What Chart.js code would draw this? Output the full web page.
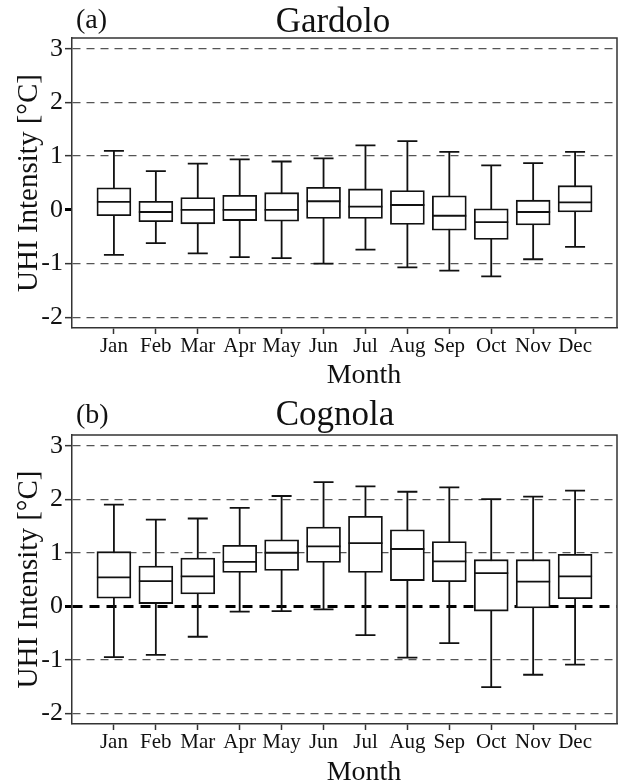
<!DOCTYPE html>
<html>
<head>
<meta charset="utf-8">
<script src="https://cdn.jsdelivr.net/npm/chart.js@4.4.1/dist/chart.umd.min.js"></script>
<style>
  body { margin: 0; background: #fff; }
  canvas { position: absolute; left: 0; }
</style>
</head>
<body>
<canvas id="gardoloChart" width="618" height="396" style="top:0px"></canvas>
<canvas id="cognolaChart" width="618" height="388" style="top:396px"></canvas>
<script>
const months = ['Jan', 'Feb', 'Mar', 'Apr', 'May', 'Jun', 'Jul', 'Aug', 'Sep', 'Oct', 'Nov', 'Dec'];
const yTicks = [-2, -1, 0, 1, 2, 3];

// (a) Gardolo
const gardoloLow = [-0.84, -0.62, -0.81, -0.88, -0.90, -1.00, -0.74, -1.07, -1.13, -1.24, -0.92, -0.69];
const gardoloQ1 = [-0.11, -0.22, -0.26, -0.20, -0.21, -0.16, -0.16, -0.27, -0.38, -0.55, -0.28, -0.04];
const gardoloMedian = [0.15, -0.04, 0.00, 0.00, 0.00, 0.16, 0.06, 0.09, -0.11, -0.23, -0.04, 0.14];
const gardoloQ3 = [0.41, 0.16, 0.23, 0.27, 0.32, 0.42, 0.39, 0.36, 0.26, 0.02, 0.18, 0.45];
const gardoloHigh = [1.10, 0.72, 0.86, 0.94, 0.90, 0.96, 1.20, 1.28, 1.08, 0.83, 0.87, 1.08];

// (b) Cognola
const cognolaLow = [-0.95, -0.91, -0.57, -0.10, -0.09, -0.06, -0.54, -0.96, -0.69, -1.51, -1.28, -1.09];
const cognolaQ1 = [0.15, 0.05, 0.23, 0.63, 0.67, 0.82, 0.63, 0.48, 0.46, -0.09, -0.03, 0.14];
const cognolaMedian = [0.54, 0.47, 0.56, 0.83, 1.00, 1.12, 1.18, 1.07, 0.84, 0.62, 0.46, 0.56];
const cognolaQ3 = [1.02, 0.75, 0.90, 1.14, 1.24, 1.48, 1.68, 1.43, 1.21, 0.87, 0.87, 0.97];
const cognolaHigh = [1.90, 1.62, 1.64, 1.84, 2.06, 2.32, 2.24, 2.14, 2.22, 2.00, 2.05, 2.16];

const SERIF = '"Liberation Serif", "Times New Roman", serif';
Chart.defaults.font.family = SERIF;
Chart.defaults.color = '#111';

// whiskers behind the boxes, medians on top
const boxLines = {
  id: 'boxLines',
  beforeDatasetsDraw(chart) {
    const { ctx, scales: { x, y } } = chart;
    const ds = chart.data.datasets[0];
    const cap = 10;
    ctx.save();
    ctx.strokeStyle = '#111';
    ctx.lineWidth = 1.8;
    ds.low.forEach((lo, i) => {
      const px = x.getPixelForValue(i + 1);
      const yLo = y.getPixelForValue(lo);
      const yHi = y.getPixelForValue(ds.high[i]);
      ctx.beginPath();
      ctx.moveTo(px, yLo); ctx.lineTo(px, yHi);
      ctx.moveTo(px - cap, yLo); ctx.lineTo(px + cap, yLo);
      ctx.moveTo(px - cap, yHi); ctx.lineTo(px + cap, yHi);
      ctx.stroke();
    });
    ctx.restore();
  },
  afterDatasetsDraw(chart) {
    const { ctx, scales: { y } } = chart;
    const ds = chart.data.datasets[0];
    const bars = chart.getDatasetMeta(0).data;
    ctx.save();
    ctx.strokeStyle = '#111';
    ctx.lineWidth = 1.8;
    ds.median.forEach((m, i) => {
      const bar = bars[i];
      const py = y.getPixelForValue(m);
      ctx.beginPath();
      ctx.moveTo(bar.x - bar.width / 2, py);
      ctx.lineTo(bar.x + bar.width / 2, py);
      ctx.stroke();
    });
    // top and right sides of the frame
    const a = chart.chartArea;
    ctx.strokeStyle = '#333';
    ctx.lineWidth = 1.5;
    ctx.beginPath();
    ctx.moveTo(a.left, a.top);
    ctx.lineTo(a.right, a.top);
    ctx.lineTo(a.right, a.bottom);
    ctx.stroke();
    ctx.restore();
  }
};

const panelText = {
  id: 'panelText',
  afterDraw(chart, args, opts) {
    const ctx = chart.ctx;
    ctx.save();
    ctx.fillStyle = '#111';
    ctx.textBaseline = 'alphabetic';
    ctx.textAlign = 'left';
    ctx.font = '28px ' + SERIF;
    ctx.fillText(opts.letter, 76, opts.letterY);
    ctx.textAlign = 'center';
    ctx.font = '35px ' + SERIF;
    ctx.fillText(opts.title, opts.titleX, opts.titleY);
    ctx.font = '28px ' + SERIF;
    ctx.fillText('Month', 364, opts.monthY);
    ctx.restore();
  }
};

function makePanel(id, p) {
  const isZero = c => c.tick && c.tick.value === 0;
  return new Chart(document.getElementById(id), {
    type: 'bar',
    data: {
      datasets: [{
        data: months.map((m, i) => ({ x: i + 1, y: [p.q1[i], p.q3[i]] })),
        low: p.low,
        median: p.median,
        high: p.high,
        backgroundColor: '#fff',
        borderColor: '#111',
        borderWidth: 1.8,
        borderSkipped: false,
        barThickness: 34
      }]
    },
    options: {
      responsive: false,
      animation: false,
      devicePixelRatio: 1,
      layout: { padding: { top: p.top, right: 1, left: 0, bottom: 0 } },
      plugins: {
        legend: { display: false },
        tooltip: { enabled: false },
        panelText: p.text
      },
      scales: {
        x: {
          type: 'linear',
          min: 0,
          max: 13,
          offset: false,
          afterBuildTicks: s => { s.ticks = months.map((m, i) => ({ value: i + 1 })); },
          afterFit: s => { s.height = p.xHeight; },
          ticks: {
            callback: v => months[v - 1],
            font: { family: SERIF, size: 21 },
            color: '#111',
            padding: 0,
            autoSkip: false,
            maxRotation: 0
          },
          grid: { offset: false, drawOnChartArea: false, tickLength: 6, tickColor: '#333', tickWidth: 1.5 },
          border: { color: '#333', width: 1.5 }
        },
        y: {
          min: -2.2,
          max: 3.2,
          afterBuildTicks: s => { s.ticks = yTicks.map(v => ({ value: v })); },
          afterFit: s => { s.width = 72; },
          ticks: { font: { family: SERIF, size: 26 }, color: '#111', padding: 2 },
          grid: {
            color: c => isZero(c) ? p.zeroColor : '#555',
            lineWidth: c => isZero(c) ? 3 : 1.3,
            tickLength: 7,
            tickColor: c => isZero(c) ? '#000' : '#333',
            tickWidth: c => isZero(c) ? 3 : 1.5
          },
          border: {
            color: '#333',
            width: 1.5,
            dash: c => isZero(c) ? [10, 7] : [8, 6]
          },
          title: {
            display: true,
            text: 'UHI Intensity [°C]',
            font: { family: SERIF, size: 29 },
            color: '#111',
            padding: { top: 12, bottom: 0 }
          }
        }
      }
    },
    plugins: [boxLines, panelText]
  });
}

makePanel('gardoloChart', {
  low: gardoloLow, q1: gardoloQ1, median: gardoloMedian, q3: gardoloQ3, high: gardoloHigh,
  top: 38, xHeight: 68, zeroColor: 'rgba(0,0,0,0)',
  text: { letter: '(a)', letterY: 28, title: 'Gardolo', titleX: 333, titleY: 32, monthY: 383 }
});

makePanel('cognolaChart', {
  low: cognolaLow, q1: cognolaQ1, median: cognolaMedian, q3: cognolaQ3, high: cognolaHigh,
  top: 39, xHeight: 60, zeroColor: '#000',
  text: { letter: '(b)', letterY: 27, title: 'Cognola', titleX: 335, titleY: 29, monthY: 384 }
});
</script>
</body>
</html>
